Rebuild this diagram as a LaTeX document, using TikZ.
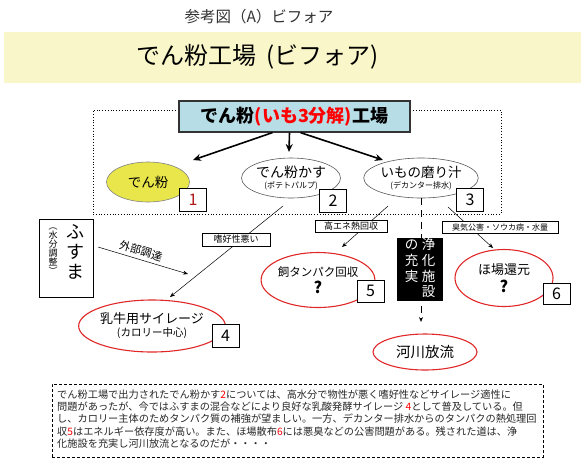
\documentclass[tikz,border=0pt]{standalone}
\usepackage{fontspec}
\setmainfont{Noto Sans CJK JP}
\usetikzlibrary{arrows.meta,shapes.geometric}
\definecolor{band}{HTML}{F9F7C9}
\definecolor{hdrfill}{HTML}{B7DDE6}
\definecolor{yel}{HTML}{E8E64A}
\definecolor{redl}{HTML}{E02828}
\definecolor{numred}{HTML}{B01818}
\newcommand{\myfs}[1]{\fontsize{#1}{#1}\selectfont}
\tikzset{
  numbox/.style={draw, fill=white, line width=0.6pt, minimum width=27pt, minimum height=23pt, inner sep=0pt, font=\myfs{16}},
  wellipse/.style={ellipse, draw=black!65, line width=0.6pt, fill=white, inner sep=0pt, align=center},
  rellipse/.style={ellipse, draw=redl, line width=1.1pt, fill=white, inner sep=0pt, align=center},
  lbl/.style={draw, fill=white, line width=0.6pt, inner sep=0pt, minimum height=12pt},
  thinarr/.style={-{Stealth[length=5pt,width=4pt]}, line width=0.5pt},
  thickarr/.style={-{Stealth[length=8pt,width=7pt]}, line width=1.6pt},
}
\begin{document}
\begin{tikzpicture}[x=1pt,y=-1pt]
\useasboundingbox (0,0) rectangle (585,467);
% titles
\node[font=\myfs{15.5}, text=black!80] (top) at (259,17) {参考図（A）ビフォア};
\node[fill=band, minimum width=577pt, minimum height=51pt, inner sep=0pt] (band) at (292.5,57.5) {};
\node[font=\myfs{24}] (title) at (257.5,57) {でん粉工場\hspace{10pt}(ビフォア)};
% plant box
\node[draw, dotted, line width=0.8pt, minimum width=408pt, minimum height=104pt, inner sep=0pt] (plant) at (297,162) {};
\node[draw=black!80, line width=1.2pt, fill=hdrfill, minimum width=231pt, minimum height=31pt, inner sep=0pt, font=\bfseries\myfs{18}] (hdr) at (294.5,116.5) {でん粉{\color{red}(いも3分解)}工場};
% products
\node[wellipse, fill=yel, draw=black!50, minimum width=83pt, minimum height=40pt, font=\myfs{13.5}] (e1) at (148,182) {でん粉};
\node[wellipse, minimum width=82pt, minimum height=40pt] (e2) at (291,178) {{\myfs{14}でん粉かす}\\[-1pt]{\myfs{8}(ポテトパルプ)}};
\node[wellipse, minimum width=82pt, minimum height=40pt] (e3) at (421,178) {{\myfs{13.5}いもの磨り汁}\\[-1pt]{\myfs{8}(デカンター排水)}};
\node[numbox, text=numred] (n1) at (193,200) {1};
\node[numbox] (n2) at (333,200.5) {2};
\node[numbox] (n3) at (470,199.5) {3};
% header arrows
\coordinate (t1) at (193,160);
\coordinate (t2) at (289,152);
\coordinate (t3) at (383,160);
\draw[thickarr] ([xshift=-22pt]hdr.south) -- (t1);
\draw[thickarr] ([xshift=-5pt]hdr.south) -- (t2);
\draw[thickarr] ([xshift=6pt]hdr.south) -- (t3);
% lower connectors
\coordinate (s2) at (283,206);
\coordinate (t4) at (170,297);
\coordinate (s3a) at (388,206);
\coordinate (t5) at (342,247);
\coordinate (s3b) at (448,207);
\coordinate (t6) at (493,248);
\coordinate (t7) at (421,322);
\coordinate (s8) at (98,247);
\coordinate (t8) at (188,274);
\draw[thinarr] (s2) -- (t4);
\draw[thinarr] (s3a) -- (t5);
\draw[thinarr] (s3b) -- (t6);
\draw[thinarr, line width=0.9pt, dash pattern=on 7pt off 5pt] (e3.south) -- (t7);
\draw[thinarr] (s8) -- (t8);
\node[rotate=-16.7, font=\myfs{11}, inner sep=0pt] (gaibu) at (141,251) {外部調達};
% labels
\node[lbl, minimum width=68pt, minimum height=13pt, font=\myfs{9}] (l1) at (236,239.5) {嗜好性悪い};
\node[lbl, minimum width=72pt, font=\myfs{9}] (l2) at (351,226) {高エネ熱回収};
\node[lbl, minimum width=116pt, font=\myfs{8}] (l3) at (500,227) {臭気公害・ソウカ病・水量};
% purification box
\node[fill=black, text=white, minimum width=46pt, minimum height=63pt, inner sep=0pt, font=\fontsize{13.5}{14}\selectfont] (pur) at (420,269.5) {\begin{tabular}{@{}c@{\hspace{3.5pt}}c@{}}の&浄\\充&化\\実&施\\&設\end{tabular}};
% fusuma
\node[draw, line width=0.8pt, minimum width=54pt, minimum height=78pt, inner sep=0pt] (fus) at (66,258) {};
\node[font=\fontsize{18}{20}\selectfont, align=center, inner sep=0pt] (fus1) at (75,252) {ふ\\す\\ま};
\node[font=\fontsize{9}{9}\selectfont, align=center, inner sep=0pt] (fus2) at (53,251.5) {︵\\水\\分\\調\\整\\︶};
% destinations
\node[rellipse, minimum width=126pt, minimum height=52pt] (e4) at (152,326) {{\myfs{13}乳牛用サイレージ}\\[1pt]{\myfs{10.5}(カロリー中心)}};
\node[numbox] (n4) at (225.5,335.5) {4};
\node[rellipse, minimum width=100pt, minimum height=55pt] (e5) at (318,280) {{\myfs{11.5}飼タンパク回収}\\[3pt]{\bfseries\myfs{16}?}};
\node[numbox, minimum height=22pt] (n5) at (370.5,291) {5};
\node[rellipse, minimum width=98pt, minimum height=57pt] (e6) at (504,278) {{\myfs{13}ほ場還元}\\[3pt]{\bfseries\myfs{16}?}};
\node[numbox, minimum height=21pt] (n6) at (556.5,293.5) {6};
\node[rellipse, minimum width=104pt, minimum height=36pt, font=\myfs{14.5}] (e7) at (425,352) {河川放流};
% note
\node[draw, line width=1pt, dash pattern=on 3pt off 2pt, minimum width=491pt, minimum height=73pt, inner sep=0pt] (note) at (297.5,420.5) {};
\node[anchor=north west, inner sep=0pt, align=left, font=\fontsize{10.2}{12.3}\selectfont, text=black!85] (notetext) at (57,389.5) {でん粉工場で出力されたでん粉かす\textcolor{red}{2}については、高水分で物性が悪く嗜好性などサイレージ適性に\\問題があったが、今ではふすまの混合などにより良好な乳酸発酵サイレージ \textcolor{red}{4}として普及している。但\\し、カロリー主体のためタンパク質の補強が望ましい。一方、デカンター排水からのタンパクの熱処理回\\収\textcolor{red}{5}はエネルギー依存度が高い。また、ほ場散布\textcolor{red}{6}には悪臭などの公害問題がある。残された道は、浄\\化施設を充実し河川放流となるのだが・・・・};
\end{tikzpicture}
\end{document}
